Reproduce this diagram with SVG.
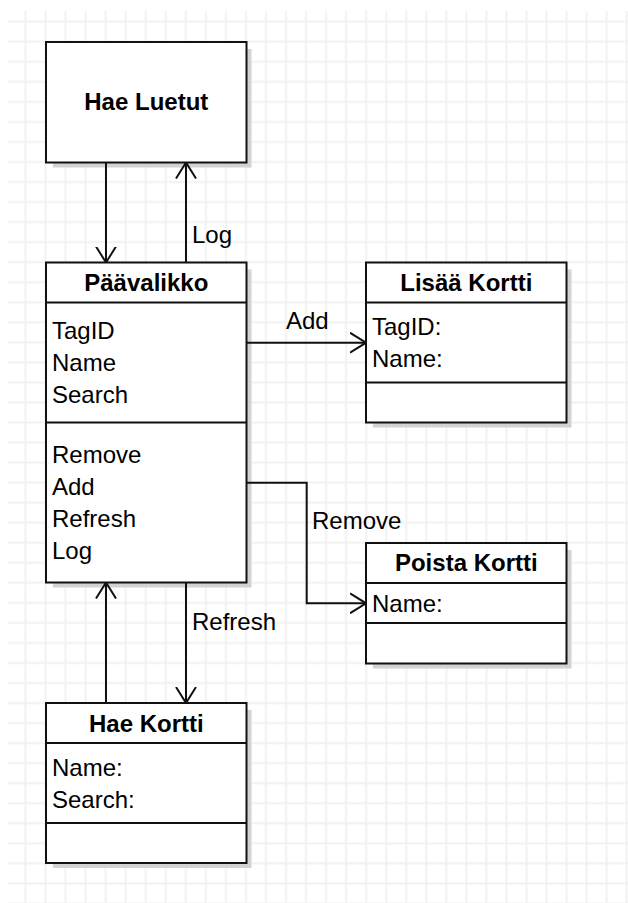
<svg xmlns="http://www.w3.org/2000/svg" width="628" height="903" viewBox="0 0 628 903">
<style>
.box{fill:#ffffff;stroke:#111111;stroke-width:2}
.shadow{fill:#d2d2d2}
.div{stroke:#111111;stroke-width:2}
.t{font-family:"Liberation Sans",Arial,sans-serif;font-size:24px;fill:#000000}
.b{font-family:"Liberation Sans",Arial,sans-serif;font-size:24px;font-weight:bold;fill:#000000;text-anchor:middle}
.edge{fill:none;stroke:#111111;stroke-width:2}
</style>
<defs>
<pattern id="grid" patternUnits="userSpaceOnUse" x="15.5" y="11.7" width="20.04" height="20.04">
<line x1="10" y1="0" x2="10" y2="20.04" stroke="#f1f1f1" stroke-width="2"/>
<line x1="0" y1="10" x2="20.04" y2="10" stroke="#f1f1f1" stroke-width="2"/>
</pattern>
<marker id="arr" viewBox="0 0 16 22" refX="16" refY="11" markerWidth="16" markerHeight="22" markerUnits="userSpaceOnUse" orient="auto">
<path d="M0,1 L16,11 L0,21" fill="none" stroke="#111111" stroke-width="2"/>
</marker>
</defs>
<rect x="0" y="0" width="628" height="903" fill="#ffffff"/>
<rect x="8" y="11" width="620" height="892" fill="url(#grid)"/>

<g id="shadows">
<rect class="shadow" x="53" y="49" width="198.5" height="118.5"/>
<rect class="shadow" x="53" y="269.5" width="198.5" height="318"/>
<rect class="shadow" x="373" y="269.5" width="198.5" height="158"/>
<rect class="shadow" x="373" y="550" width="198.5" height="118.5"/>
<rect class="shadow" x="53" y="710" width="198.5" height="158"/>
</g>

<g id="connectors">
<path class="edge" d="M106,162.5 V262.5" marker-end="url(#arr)"/>
<path class="edge" d="M186,262.5 V162.5" marker-end="url(#arr)"/>
<path class="edge" d="M246.5,342.7 H366" marker-end="url(#arr)"/>
<path class="edge" d="M246.5,482.7 H306.7 V603.3 H366" marker-end="url(#arr)"/>
<path class="edge" d="M106,703 V582.5" marker-end="url(#arr)"/>
<path class="edge" d="M186,582.5 V703" marker-end="url(#arr)"/>
<text class="t" x="192" y="243">Log</text>
<text class="t" x="286" y="329">Add</text>
<text class="t" x="312" y="529">Remove</text>
<text class="t" x="192" y="630">Refresh</text>
</g>

<g id="hae-luetut">
<rect class="box" x="46" y="42" width="200.5" height="120.5"/>
<text class="b" x="146.3" y="110">Hae Luetut</text>
</g>

<g id="paavalikko">
<rect class="box" x="46" y="262.5" width="200.5" height="320"/>
<line class="div" x1="46" y1="302.5" x2="246.5" y2="302.5"/>
<line class="div" x1="46" y1="422.5" x2="246.5" y2="422.5"/>
<text class="b" x="146.3" y="290.5">Päävalikko</text>
<text class="t" x="52" y="339">TagID</text>
<text class="t" x="52" y="371">Name</text>
<text class="t" x="52" y="403">Search</text>
<text class="t" x="52" y="463">Remove</text>
<text class="t" x="52" y="495">Add</text>
<text class="t" x="52" y="527">Refresh</text>
<text class="t" x="52" y="559">Log</text>
</g>

<g id="lisaa-kortti">
<rect class="box" x="366" y="262.5" width="200.5" height="160"/>
<line class="div" x1="366" y1="302.5" x2="566.5" y2="302.5"/>
<line class="div" x1="366" y1="382.5" x2="566.5" y2="382.5"/>
<text class="b" x="466.3" y="290.5">Lisää Kortti</text>
<text class="t" x="372" y="335">TagID:</text>
<text class="t" x="372" y="367">Name:</text>
</g>

<g id="poista-kortti">
<rect class="box" x="366" y="543" width="200.5" height="120.5"/>
<line class="div" x1="366" y1="583" x2="566.5" y2="583"/>
<line class="div" x1="366" y1="623" x2="566.5" y2="623"/>
<text class="b" x="466.3" y="571">Poista Kortti</text>
<text class="t" x="372" y="611.5">Name:</text>
</g>

<g id="hae-kortti">
<rect class="box" x="46" y="703" width="200.5" height="160"/>
<line class="div" x1="46" y1="743" x2="246.5" y2="743"/>
<line class="div" x1="46" y1="823" x2="246.5" y2="823"/>
<text class="b" x="146.3" y="731.5">Hae Kortti</text>
<text class="t" x="52" y="776">Name:</text>
<text class="t" x="52" y="808">Search:</text>
</g>
</svg>
